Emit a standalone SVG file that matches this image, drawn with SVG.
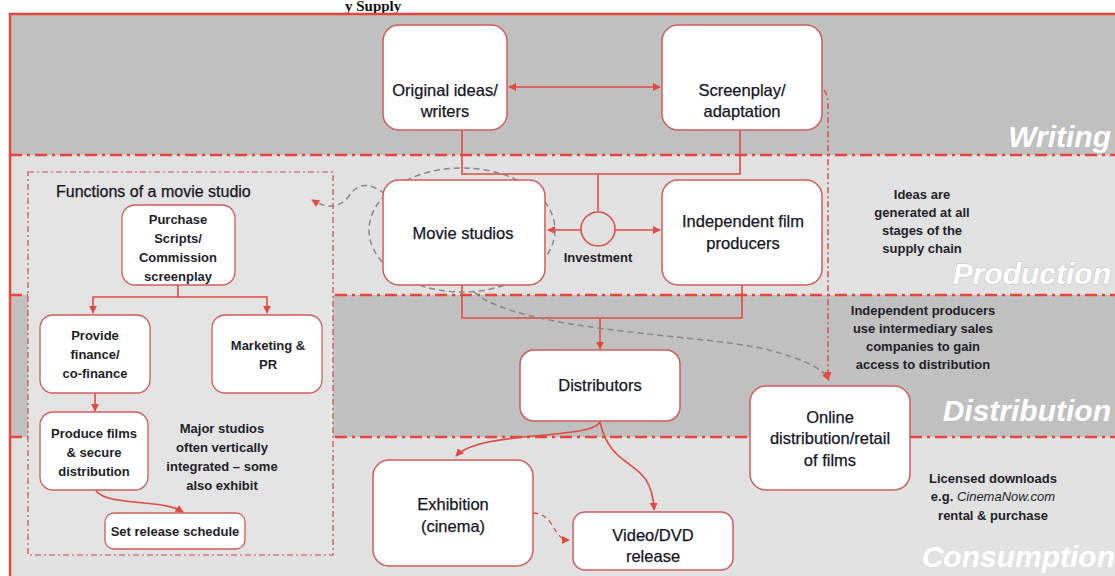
<svg xmlns="http://www.w3.org/2000/svg" width="1115" height="576" viewBox="0 0 1115 576">
<defs>
<style>
.node{fill:#ffffff;stroke:#cf5c5c;stroke-width:1.5}
.sub{fill:#ffffff;stroke:#cf5c5c;stroke-width:1.3}
.t{font-family:"Liberation Sans",Arial,sans-serif;font-size:16.5px;fill:#15151f;text-anchor:middle;stroke:#15151f;stroke-width:0.25}
.tb{font-family:"Liberation Sans",Arial,sans-serif;font-size:13px;font-weight:bold;fill:#1e1e28;text-anchor:middle}
.band{font-family:"Liberation Sans",Arial,sans-serif;font-size:30px;font-weight:bold;font-style:italic;fill:#ffffff;text-anchor:end}
.sep{stroke:#e8453c;stroke-width:2.5;fill:none;stroke-dasharray:12 5 3 5}
.line{stroke:#e04a42;stroke-width:1.6;fill:none}
.dash{stroke:#888;stroke-width:1.5;fill:none;stroke-dasharray:6 4}
</style>
<marker id="ah" viewBox="0 0 10 10" refX="9" refY="5" markerWidth="8" markerHeight="8" orient="auto-start-reverse" markerUnits="userSpaceOnUse">
<path d="M0,0 L10,5 L0,10 z" fill="#e04a42"/>
</marker>
</defs>
<rect x="0" y="0" width="1115" height="576" fill="#ffffff"/>
<text x="345" y="11" font-family="'Liberation Serif',serif" font-size="15" font-weight="bold" fill="#111">y Supply</text>
<!-- bands -->
<rect x="10" y="15" width="1105" height="140" fill="#c0c0c0"/>
<rect x="10" y="155" width="1105" height="140" fill="#e1e1e1"/>
<rect x="10" y="295" width="1105" height="142" fill="#c0c0c0"/>
<rect x="10" y="437" width="1105" height="139" fill="#e1e1e1"/>
<line class="sep" x1="10" y1="155" x2="1115" y2="155"/>
<line class="sep" x1="10" y1="295" x2="1115" y2="295"/>
<line class="sep" x1="10" y1="437" x2="1115" y2="437"/>
<path d="M10,576 V14 H1115" stroke="#e8453c" stroke-width="2.5" fill="none"/>
<text class="band" x="1111" y="147">Writing</text>
<text class="band" x="1111" y="284" stroke="#c4c4c4" stroke-width="1" paint-order="stroke">Production</text>
<text class="band" x="1111" y="421">Distribution</text>
<text class="band" x="1115" y="567">Consumption</text>

<!-- studio functions box -->
<g id="studio-functions">
<rect x="28" y="172" width="305" height="383" fill="#e3e3e3" stroke="#d04a4a" stroke-width="1.2" stroke-dasharray="6 3 2 3"/>
<text x="56" y="197" font-family="'Liberation Sans',Arial,sans-serif" font-size="16" fill="#15151f" stroke="#15151f" stroke-width="0.25">Functions of a movie studio</text>
</g>

<!-- connectors -->
<g id="connectors">
<line class="line" x1="509" y1="87" x2="660" y2="87" marker-start="url(#ah)" marker-end="url(#ah)"/>
<path class="line" d="M462,130 V174 H740 V130"/>
<line class="line" x1="598" y1="174" x2="598" y2="211"/>
<line class="line" x1="581" y1="230" x2="548" y2="230" marker-end="url(#ah)"/>
<line class="line" x1="615" y1="230" x2="660" y2="230" marker-end="url(#ah)"/>
<path class="line" d="M462,285 V318 H742 V285"/>
<line class="line" x1="600" y1="318" x2="600" y2="349" marker-end="url(#ah)"/>
<path class="line" d="M600,422 C592,440 480,430 456,456" marker-end="url(#ah)"/>
<path class="line" d="M600,422 C612,475 652,455 654,510" marker-end="url(#ah)"/>
<path d="M533,513 C556,514 552,540 569,540" stroke="#d45050" stroke-width="1.3" fill="none" stroke-dasharray="5 4" marker-end="url(#ah)"/>
<path d="M824,90 C828,95 828,100 828,110 V379" stroke="#d45050" stroke-width="1.5" fill="none" stroke-dasharray="6 3 2 3" marker-end="url(#ah)"/>
<ellipse class="dash" cx="462" cy="230" rx="93" ry="62"/>
<path class="dash" d="M474,292 C520,332 700,334 765,349 C800,358 822,367 829,380" marker-end="url(#ah)"/>
<path class="dash" d="M385,194 Q362,176 349,196 Q335,214 312,200" marker-end="url(#ah)"/>
<line class="line" x1="178" y1="285" x2="178" y2="297"/>
<path class="line" d="M93,313 V297 H267 V313" marker-start="url(#ah)" marker-end="url(#ah)"/>
<line class="line" x1="95" y1="393" x2="95" y2="411" marker-end="url(#ah)"/>
<path class="line" d="M96,491 C110,507 160,498 183,512" marker-end="url(#ah)"/>
</g>

<!-- nodes -->
<g id="original-ideas">
<rect class="node" x="383" y="25" width="124" height="105" rx="16"/>
<text class="t" x="445" y="96">Original ideas/</text>
<text class="t" x="445" y="117">writers</text>
</g>
<g id="screenplay">
<rect class="node" x="662" y="25" width="160" height="105" rx="16"/>
<text class="t" x="742" y="96">Screenplay/</text>
<text class="t" x="742" y="117">adaptation</text>
</g>
<g id="investment">
<circle cx="598" cy="229" r="17" fill="#e1e1e1" stroke="#e04a42" stroke-width="1.5"/>
<text class="tb" x="598" y="262">Investment</text>
</g>
<g id="movie-studios">
<rect class="node" x="383" y="180" width="162" height="105" rx="16"/>
<text class="t" x="463" y="239">Movie studios</text>
</g>
<g id="independent-producers">
<rect class="node" x="662" y="180" width="160" height="105" rx="16"/>
<text class="t" x="743" y="227">Independent film</text>
<text class="t" x="743" y="249">producers</text>
</g>
<g id="note-ideas">
<text class="tb" x="922" y="199">Ideas are</text>
<text class="tb" x="922" y="217">generated at all</text>
<text class="tb" x="922" y="235">stages of the</text>
<text class="tb" x="922" y="253">supply chain</text>
</g>
<g id="note-independent">
<text class="tb" x="923" y="315">Independent producers</text>
<text class="tb" x="923" y="333">use intermediary sales</text>
<text class="tb" x="923" y="351">companies to gain</text>
<text class="tb" x="923" y="369">access to distribution</text>
</g>
<g id="distributors">
<rect class="node" x="520" y="350" width="160" height="71" rx="14"/>
<text class="t" x="600" y="391">Distributors</text>
</g>
<g id="online">
<rect class="node" x="750" y="386" width="160" height="104" rx="16"/>
<text class="t" x="830" y="423">Online</text>
<text class="t" x="830" y="444">distribution/retail</text>
<text class="t" x="830" y="466">of films</text>
</g>
<g id="note-licensed">
<text class="tb" x="993" y="483">Licensed downloads</text>
<text class="tb" x="993" y="501">e.g. <tspan font-style="italic" font-weight="normal">CinemaNow.com</tspan></text>
<text class="tb" x="993" y="520">rental &amp; purchase</text>
</g>
<g id="exhibition">
<rect class="node" x="373" y="460" width="160" height="106" rx="16"/>
<text class="t" x="453" y="510">Exhibition</text>
<text class="t" x="453" y="532">(cinema)</text>
</g>
<g id="video-dvd">
<rect class="node" x="573" y="512" width="160" height="58" rx="12"/>
<text class="t" x="653" y="541">Video/DVD</text>
<text class="t" x="653" y="562">release</text>
</g>
<g id="purchase-scripts">
<rect class="sub" x="122" y="205" width="113" height="80" rx="13"/>
<text class="tb" x="178" y="224">Purchase</text>
<text class="tb" x="178" y="243">Scripts/</text>
<text class="tb" x="178" y="262">Commission</text>
<text class="tb" x="178" y="281">screenplay</text>
</g>
<g id="provide-finance">
<rect class="sub" x="40" y="315" width="110" height="78" rx="13"/>
<text class="tb" x="95" y="340">Provide</text>
<text class="tb" x="95" y="359">finance/</text>
<text class="tb" x="95" y="378">co-finance</text>
</g>
<g id="marketing">
<rect class="sub" x="212" y="315" width="110" height="78" rx="13"/>
<text class="tb" x="268" y="350">Marketing &amp;</text>
<text class="tb" x="268" y="369">PR</text>
</g>
<g id="produce-films">
<rect class="sub" x="40" y="412" width="108" height="78" rx="13"/>
<text class="tb" x="94" y="438">Produce films</text>
<text class="tb" x="94" y="457">&amp; secure</text>
<text class="tb" x="94" y="476">distribution</text>
</g>
<g id="note-major">
<text class="tb" x="222" y="433">Major studios</text>
<text class="tb" x="222" y="452">often vertically</text>
<text class="tb" x="222" y="471">integrated – some</text>
<text class="tb" x="222" y="490">also exhibit</text>
</g>
<g id="set-release">
<rect class="sub" x="105" y="513" width="140" height="36" rx="9"/>
<text class="tb" x="175" y="536">Set release schedule</text>
</g>
</svg>
